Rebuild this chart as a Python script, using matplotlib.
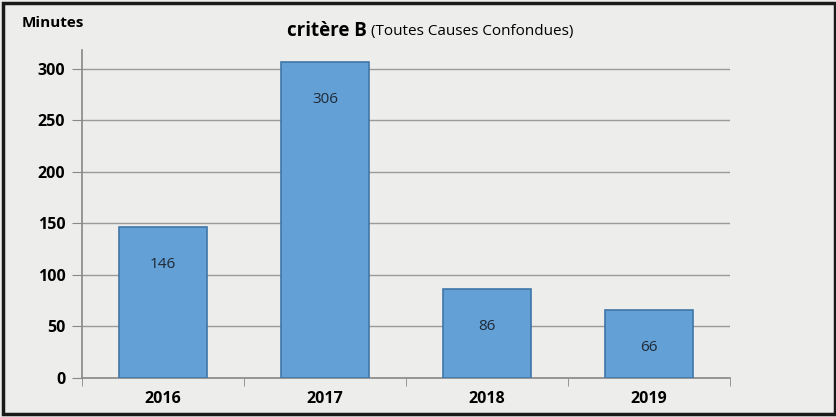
import matplotlib
matplotlib.use("Agg")
import matplotlib.pyplot as plt
from matplotlib.patches import Rectangle

years = ["2016", "2017", "2018", "2019"]
minutes = [146, 306, 86, 66]
yticks = [0, 50, 100, 150, 200, 250, 300]

plt.rcParams['font.family'] = ['Open Sans', 'DejaVu Sans']

fig = plt.figure(figsize=(8.37, 4.17), dpi=100)
fig.patch.set_facecolor("#ededeb")
ax = fig.add_axes([0.098, 0.0935, 0.774, 0.7865])
ax.set_facecolor("#ededeb")

x = list(range(len(years)))
bars = ax.bar(x, minutes, width=0.54, color="#63a0d6", edgecolor="#3f77a8",
              linewidth=1.2, zorder=3)
for xi, v in zip(x, minutes):
    ax.annotate(str(v), (xi, v), xytext=(0, -27), textcoords="offset points",
                ha="center", va="center", fontsize=11, color="#1f2a36", zorder=4)

ax.set_xlim(-0.5, len(years) - 0.5)
ax.set_ylim(0, 318)
ax.set_yticks(yticks)
ax.set_yticklabels([str(t) for t in yticks], fontsize=11.5, fontweight="bold")
ax.set_xticks(x)
ax.set_xticklabels(years, fontsize=11.5, fontweight="bold")
ax.set_xticks([i - 0.5 for i in range(len(years) + 1)], minor=True)
ax.tick_params(axis="x", which="major", length=0, pad=9)
ax.tick_params(axis="x", which="minor", length=6, color="#888888", direction="out")
ax.tick_params(axis="y", length=7, color="#888888", pad=5)
ax.yaxis.grid(True, color="#9a9a9a", linewidth=1.0, zorder=0)
ax.set_axisbelow(True)
for s in ["top", "right"]:
    ax.spines[s].set_visible(False)
for s in ["left", "bottom"]:
    ax.spines[s].set_color("#888888")
    ax.spines[s].set_linewidth(1.2)

fig.text(0.026, 0.945, "Minutes", fontsize=11, fontweight="bold", ha="left", va="center")
fig.text(0.438, 0.925, "critère B", fontsize=13.5, fontweight="bold", ha="right", va="center")
fig.text(0.439, 0.925, " (Toutes Causes Confondues)", fontsize=11, ha="left", va="center")

fig.patches.append(Rectangle((0.004, 0.008), 0.994, 0.985, transform=fig.transFigure,
                             fill=False, edgecolor="#1a1a1a", linewidth=2.5))

fig.savefig("out.png", dpi=100)
